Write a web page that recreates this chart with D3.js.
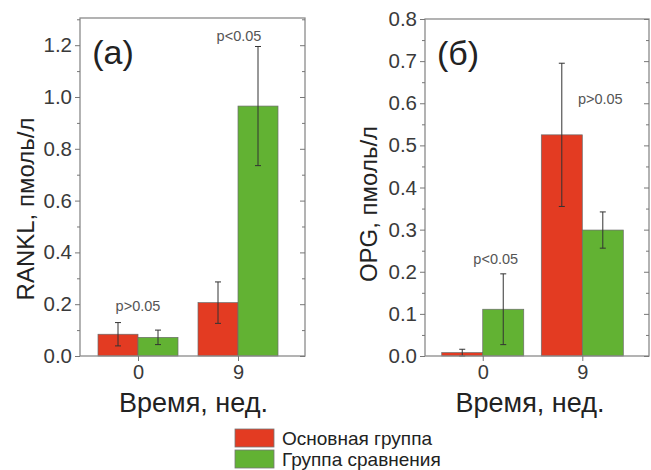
<!DOCTYPE html>
<html lang="ru">
<head>
<meta charset="UTF-8">
<script src="https://d3js.org/d3.v7.min.js"></script>
<style>
  body { margin: 0; background: #fff; }
  svg { font-family: "Liberation Sans", Arial, sans-serif; }
  .tick text { fill: #3a3a3a; }
</style>
</head>
<body>
<svg id="chart" width="651" height="470"></svg>
<script>
// data
const weeks = ["0", "9"];
const groups = ["Основная группа", "Группа сравнения"];
const colors = ["#e33b22", "#62b233"];

const ranklMain = [0.084, 0.206];
const ranklMainErr = [0.045, 0.08];
const ranklComp = [0.072, 0.965];
const ranklCompErr = [0.028, 0.23];
const ranklNotes = ["p>0.05", "p<0.05"];
const ranklNoteY = [0.193, 1.237];

const opgMain = [0.008, 0.525];
const opgMainErr = [0.008, 0.17];
const opgComp = [0.111, 0.299];
const opgCompErr = [0.084, 0.043];
const opgNotes = ["p<0.05", "p>0.05"];
const opgNoteY = [0.23, 0.609];

const svg = d3.select("#chart");

function panel(cfg) {
  const { left, right, top, bottom } = cfg;
  const g = svg.append("g");

  const x = d3.scaleLinear().domain([-0.58, 1.67]).range([left, right]);
  const y = d3.scaleLinear().domain([0, cfg.yMax]).range([bottom, top]);
  const bw = cfg.barW;

  const rows = [];
  weeks.forEach((w, i) => {
    rows.push({ i, k: 0, v: cfg.main[i], e: cfg.mainErr[i] });
    rows.push({ i, k: 1, v: cfg.comp[i], e: cfg.compErr[i] });
  });

  // bars
  g.selectAll("rect.bar").data(rows).join("rect")
    .attr("class", "bar")
    .attr("x", d => d.k === 0 ? x(d.i) - bw : x(d.i))
    .attr("y", d => y(d.v))
    .attr("width", bw)
    .attr("height", d => y(0) - y(d.v))
    .attr("fill", d => colors[d.k])
    .attr("stroke", "#6b6b6b")
    .attr("stroke-width", 0.7);

  // error bars
  const cx = d => d.k === 0 ? x(d.i) - bw / 2 : x(d.i) + bw / 2;
  const eg = g.selectAll("g.err").data(rows).join("g").attr("class", "err")
    .attr("stroke", "#333").attr("stroke-width", 1);
  eg.append("line")
    .attr("x1", cx).attr("x2", cx)
    .attr("y1", d => y(Math.max(0, d.v - d.e))).attr("y2", d => y(d.v + d.e));
  eg.append("line")
    .attr("x1", d => cx(d) - 3).attr("x2", d => cx(d) + 3)
    .attr("y1", d => y(d.v + d.e)).attr("y2", d => y(d.v + d.e));
  eg.append("line")
    .attr("x1", d => cx(d) - 3).attr("x2", d => cx(d) + 3)
    .attr("y1", d => y(Math.max(0, d.v - d.e))).attr("y2", d => y(Math.max(0, d.v - d.e)));

  // frame
  g.append("rect")
    .attr("x", left).attr("y", top)
    .attr("width", right - left).attr("height", bottom - top)
    .attr("fill", "none").attr("stroke", "#8a8a8a").attr("stroke-width", 1.3);

  const major = d3.range(0, cfg.yMax + 1e-9, cfg.step);
  const minor = d3.range(cfg.step / 2, cfg.yMax, cfg.step);

  // left axis (outward ticks)
  const ya = g.append("g").attr("transform", `translate(${left},0)`)
    .call(d3.axisLeft(y).tickValues(major).tickFormat(d3.format(cfg.fmt)).tickSize(5).tickPadding(3));
  ya.select(".domain").remove();
  ya.selectAll("line").attr("stroke", "#777");
  ya.selectAll("text").style("font-size", "20.5px");
  g.append("g").attr("transform", `translate(${left},0)`)
    .call(d3.axisLeft(y).tickValues(minor).tickFormat("").tickSize(3))
    .call(a => a.select(".domain").remove())
    .selectAll("line").attr("stroke", "#777");

  // right side ticks (inward)
  g.append("g").attr("transform", `translate(${right},0)`)
    .call(d3.axisRight(y).tickValues(major).tickFormat("").tickSize(-5))
    .call(a => a.select(".domain").remove())
    .selectAll("line").attr("stroke", "#777");
  g.append("g").attr("transform", `translate(${right},0)`)
    .call(d3.axisRight(y).tickValues(minor).tickFormat("").tickSize(-3))
    .call(a => a.select(".domain").remove())
    .selectAll("line").attr("stroke", "#777");

  // bottom axis
  const xa = g.append("g").attr("transform", `translate(0,${bottom})`)
    .call(d3.axisBottom(x).tickValues([0, 1]).tickFormat(i => weeks[i]).tickSize(5).tickPadding(4));
  xa.select(".domain").remove();
  xa.selectAll("line").attr("stroke", "#777");
  xa.selectAll("text").style("font-size", "20px");

  // axis titles
  g.append("text")
    .attr("transform", `translate(${cfg.yTitleX},${cfg.yTitleY}) rotate(-90)`)
    .attr("text-anchor", "middle").attr("dominant-baseline", "central")
    .style("font-size", "24px").attr("fill", "#222")
    .text(cfg.yTitle);
  g.append("text")
    .attr("x", (left + right) / 2 - cfg.xTitleShift).attr("y", bottom + 56)
    .attr("text-anchor", "middle")
    .style("font-size", "27px").attr("fill", "#222")
    .text("Время, нед.");

  // panel letter
  g.append("text")
    .attr("x", cfg.letterX).attr("y", top + 46)
    .attr("text-anchor", "middle")
    .style("font-size", "34px").attr("fill", "#222")
    .text(cfg.letter);

  // p-value notes
  g.selectAll("text.note").data(cfg.notes).join("text")
    .attr("class", "note")
    .attr("x", (d, i) => x(i) + cfg.noteShift[i])
    .attr("y", (d, i) => y(cfg.noteY[i]))
    .attr("text-anchor", "middle").attr("dominant-baseline", "central")
    .style("font-size", "14.5px").attr("fill", "#555")
    .text(d => d);
}

panel({
  left: 80, right: 305, top: 18, bottom: 356, yMax: 1.305, step: 0.2, fmt: ".1f",
  barW: 40, main: ranklMain, mainErr: ranklMainErr, comp: ranklComp, compErr: ranklCompErr,
  yTitle: "RANKL, пмоль/л", yTitleX: 25, yTitleY: 209, xTitleShift: -1,
  letter: "(a)", letterX: 113, notes: ranklNotes, noteY: ranklNoteY, noteShift: [0, 1]
});

panel({
  left: 425, right: 649, top: 19, bottom: 356, yMax: 0.8, step: 0.1, fmt: ".1f",
  barW: 41, main: opgMain, mainErr: opgMainErr, comp: opgComp, compErr: opgCompErr,
  yTitle: "OPG, пмоль/л", yTitleX: 368, yTitleY: 204, xTitleShift: 7,
  letter: "(б)", letterX: 458, notes: opgNotes, noteY: opgNoteY, noteShift: [13, 18]
});

// legend
const lg = svg.append("g").attr("transform", "translate(235,429)");
groups.forEach((name, i) => {
  lg.append("rect")
    .attr("x", 0).attr("y", i * 21)
    .attr("width", 39).attr("height", 18)
    .attr("fill", colors[i]).attr("stroke", "#777").attr("stroke-width", 0.8);
  lg.append("text")
    .attr("x", 47).attr("y", i * 21 + 9)
    .attr("dominant-baseline", "central")
    .style("font-size", "19px").attr("fill", "#222")
    .text(name);
});
</script>
</body>
</html>
